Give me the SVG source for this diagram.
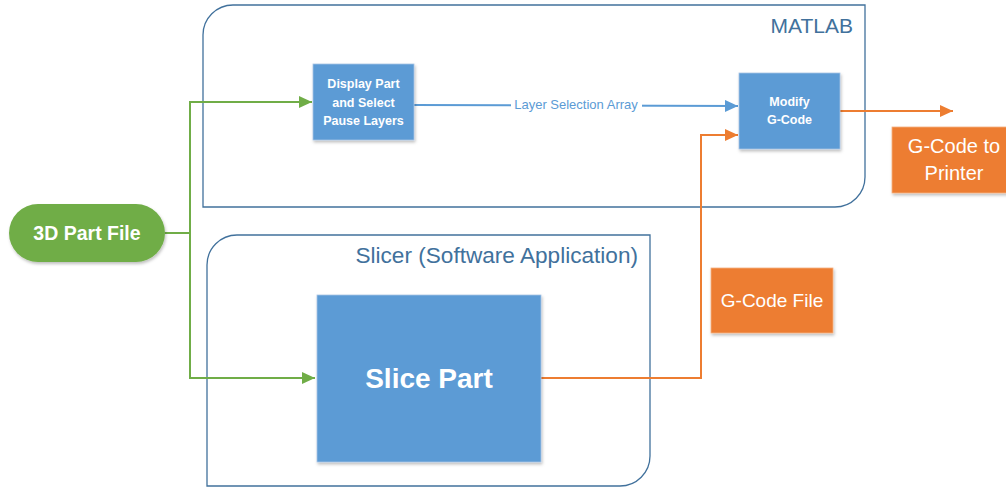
<svg xmlns="http://www.w3.org/2000/svg" width="1006" height="487" viewBox="0 0 1006 487">
  <style>
    .container { fill: #ffffff; stroke: #41719C; stroke-width: 1.3; }
    .ctitle { font-family: "Liberation Sans", Arial, sans-serif; font-size: 21px; fill: #41719C; text-anchor: end; }
    .blue { fill: #5B9BD5; stroke: #A9C4E4; stroke-width: 0.8; }
    .orange { fill: #ED7D31; stroke: #F4B183; stroke-width: 0.8; }
    .green { fill: #70AD47; }
    .wb { font-family: "Liberation Sans", Arial, sans-serif; font-weight: bold; fill: #ffffff; text-anchor: middle; }
    .wr { font-family: "Liberation Sans", Arial, sans-serif; fill: #ffffff; text-anchor: middle; }
    .gline { fill: none; stroke: #70AD47; stroke-width: 2; }
    .oline { fill: none; stroke: #ED7D31; stroke-width: 2; }
    .bline { fill: none; stroke: #5B9BD5; stroke-width: 2; }
    .lbl { font-family: "Liberation Sans", Arial, sans-serif; font-size: 13px; fill: #5B9BD5; text-anchor: middle; }
  </style>
  <defs>
    <filter id="sh" x="-10%" y="-10%" width="130%" height="130%">
      <feDropShadow dx="1" dy="2" stdDeviation="1.5" flood-color="#000000" flood-opacity="0.25"/>
    </filter>
    <marker id="ag" markerUnits="userSpaceOnUse" markerWidth="14" markerHeight="12" refX="13" refY="6" orient="auto">
      <path d="M0,0 L13,6 L0,12 Z" fill="#70AD47"/>
    </marker>
    <marker id="ao" markerUnits="userSpaceOnUse" markerWidth="14" markerHeight="12" refX="13" refY="6" orient="auto">
      <path d="M0,0 L13,6 L0,12 Z" fill="#ED7D31"/>
    </marker>
    <marker id="ab" markerUnits="userSpaceOnUse" markerWidth="14" markerHeight="12" refX="13" refY="6" orient="auto">
      <path d="M0,0 L13,6 L0,12 Z" fill="#5B9BD5"/>
    </marker>
  </defs>

  <g id="matlab-container">
    <path class="container" d="M233,5 L865,5 L865,177 A30,30 0 0 1 835,207 L203,207 L203,35 A30,30 0 0 1 233,5 Z"/>
    <text class="ctitle" x="853" y="33">MATLAB</text>
  </g>

  <g id="slicer-container">
    <path class="container" d="M237,235 L650,235 L650,456 A30,30 0 0 1 620,486 L207,486 L207,265 A30,30 0 0 1 237,235 Z"/>
    <text class="ctitle" x="638" y="263" style="font-size:22.6px">Slicer (Software Application)</text>
  </g>

  <g id="connectors">
    <polyline class="gline" points="165,233 190,233 190,102 312,102" marker-end="url(#ag)"/>
    <polyline class="gline" points="190,233 190,378 315,378" marker-end="url(#ag)"/>
    <line class="bline" x1="414" y1="105" x2="738" y2="106" marker-end="url(#ab)"/>
    <rect x="511" y="96" width="131" height="17" fill="#ffffff"/>
    <text class="lbl" x="576" y="109">Layer Selection Array</text>
    <polyline class="oline" points="541,378 701,378 701,135 738,135" marker-end="url(#ao)"/>
    <line class="oline" x1="840" y1="111" x2="953" y2="111" marker-end="url(#ao)"/>
  </g>

  <g id="part-file">
    <rect class="green" x="9" y="204" width="156" height="58" rx="29" ry="29" filter="url(#sh)"/>
    <text class="wb" x="87" y="240" font-size="19.5">3D Part File</text>
  </g>

  <g id="display-part">
    <rect class="blue" x="313" y="64" width="101" height="76" filter="url(#sh)"/>
    <text class="wb" font-size="12.5" x="363.5" y="88">Display Part</text>
    <text class="wb" font-size="12.5" x="363.5" y="107">and Select</text>
    <text class="wb" font-size="12.5" x="363.5" y="125">Pause Layers</text>
  </g>

  <g id="modify-gcode">
    <rect class="blue" x="739" y="73" width="101" height="76" filter="url(#sh)"/>
    <text class="wb" font-size="12.5" x="789.5" y="106">Modify</text>
    <text class="wb" font-size="12.5" x="789.5" y="124">G-Code</text>
  </g>

  <g id="slice-part">
    <rect class="blue" x="317" y="295" width="224" height="167" filter="url(#sh)"/>
    <text class="wb" font-size="28" x="429" y="388">Slice Part</text>
  </g>

  <g id="gcode-file">
    <rect class="orange" x="711" y="268" width="122" height="65" filter="url(#sh)"/>
    <text class="wr" font-size="19" x="772" y="307">G-Code File</text>
  </g>

  <g id="gcode-printer">
    <rect class="orange" x="892" y="127" width="118" height="66" filter="url(#sh)"/>
    <text class="wr" font-size="20" x="954" y="153">G-Code to</text>
    <text class="wr" font-size="20" x="954" y="180">Printer</text>
  </g>
</svg>
